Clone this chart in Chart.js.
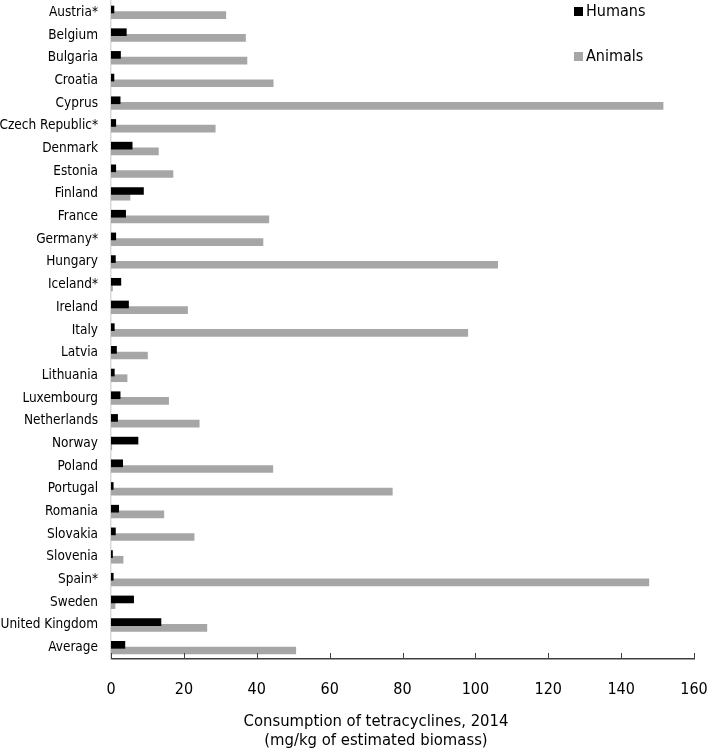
<!DOCTYPE html>
<html>
<head>
<meta charset="utf-8">
<script src="https://cdn.jsdelivr.net/npm/chart.js@4.4.1/dist/chart.umd.min.js"></script>
<style>
  html, body { margin: 0; padding: 0; background: #fff; }
  #wrap { position: relative; width: 709px; height: 750px; }
  .leg { position: absolute; font-family: "DejaVu Sans Condensed", "DejaVu Sans", sans-serif; font-size: 16px; color: #000; line-height: 16px; }
  .leg span { display: inline-block; width: 9px; height: 9px; margin-right: 3px; vertical-align: 0px; }
  #xTitle { position: absolute; left: 226px; width: 300px; top: 711px; text-align: center;
            font-family: "DejaVu Sans Condensed", "DejaVu Sans", sans-serif; font-size: 16.5px; line-height: 19px; color: #000; }
</style>
</head>
<body>
<div id="wrap">
  <canvas id="myChart" width="709" height="750"></canvas>
  <div class="leg" style="left:574px; top:3px;"><span style="background:#000"></span>Humans</div>
  <div class="leg" style="left:574px; top:48px;"><span style="background:#a6a6a6"></span>Animals</div>
  <div id="xTitle">Consumption of tetracyclines, 2014<br>(mg/kg of estimated biomass)</div>
</div>
<script>
const ctx = document.getElementById('myChart');

// Data, mg/kg of estimated biomass
const countries = ["Austria*", "Belgium", "Bulgaria", "Croatia", "Cyprus", "Czech Republic*", "Denmark",
    "Estonia", "Finland", "France", "Germany*", "Hungary", "Iceland*", "Ireland", "Italy", "Latvia",
    "Lithuania", "Luxembourg", "Netherlands", "Norway", "Poland", "Portugal", "Romania", "Slovakia",
    "Slovenia", "Spain*", "Sweden", "United Kingdom", "Average"];
const humans = [0.9, 4.3, 2.7, 0.9, 2.6, 1.4, 5.9, 1.4, 9.0, 4.1, 1.4, 1.3, 2.8, 4.9, 1.0, 1.6,
    1.0, 2.6, 1.9, 7.5, 3.3, 0.7, 2.2, 1.3, 0.5, 0.7, 6.3, 13.8, 3.9];
const animals = [31.6, 37.0, 37.4, 44.6, 151.6, 28.7, 13.1, 17.1, 5.3, 43.4, 41.8, 106.2, 0.5, 21.1, 98.0, 10.1,
    4.5, 15.9, 24.3, 0.3, 44.5, 77.3, 14.6, 22.9, 3.4, 147.7, 1.2, 26.4, 50.8];
const xTicks = [0, 20, 40, 60, 80, 100, 120, 140, 160];

const font = "'DejaVu Sans Condensed', 'DejaVu Sans', sans-serif";

// tick marks pointing up into the plot, like the original
const innerTicks = {
    id: 'innerTicks',
    afterDraw(chart) {
        const x = chart.scales.x;
        const c = chart.ctx;
        const bottom = chart.chartArea.bottom;
        c.save();
        c.strokeStyle = '#404040';
        c.lineWidth = 1;
        xTicks.forEach(v => {
            const px = Math.round(x.getPixelForValue(v)) + 0.5;
            c.beginPath();
            c.moveTo(px, bottom);
            c.lineTo(px, bottom - 6);
            c.stroke();
        });
        c.restore();
    }
};

new Chart(ctx, {
    type: 'bar',
    data: {
        labels: countries,
        datasets: [{
            label: 'Humans',
            data: humans,
            backgroundColor: '#000000',
            categoryPercentage: 0.5,
            barPercentage: 1.35
        }, {
            label: 'Animals',
            data: animals,
            backgroundColor: '#a6a6a6',
            categoryPercentage: 0.5,
            barPercentage: 1.35
        }]
    },
    options: {
        indexAxis: 'y',
        responsive: false,
        animation: false,
        layout: { padding: { top: 1, right: 15, left: 0, bottom: 0 } },
        plugins: {
            legend: { display: false },
            tooltip: { enabled: false }
        },
        scales: {
            x: {
                min: 0,
                max: 160,
                afterBuildTicks(scale) {
                    scale.ticks = xTicks.map(v => ({ value: v }));
                },
                afterFit(scale) {
                    scale.height = 91;
                    scale.paddingLeft = 0;
                    scale.paddingRight = 0;
                },
                grid: { display: false, drawTicks: false },
                border: { display: true, color: '#404040', width: 1.5 },
                ticks: {
                    padding: 21,
                    color: '#000',
                    font: { family: font, size: 16 }
                }
            },
            y: {
                afterFit(scale) {
                    scale.width = 111;
                    scale.paddingTop = 0;
                    scale.paddingBottom = 0;
                },
                grid: { display: false, drawTicks: false },
                border: { display: true, color: '#d9d9d9', width: 1.5 },
                ticks: {
                    padding: 13,
                    autoSkip: false,
                    color: '#000',
                    font: { family: font, size: 13.5 }
                }
            }
        }
    },
    plugins: [innerTicks]
});
</script>
</body>
</html>
